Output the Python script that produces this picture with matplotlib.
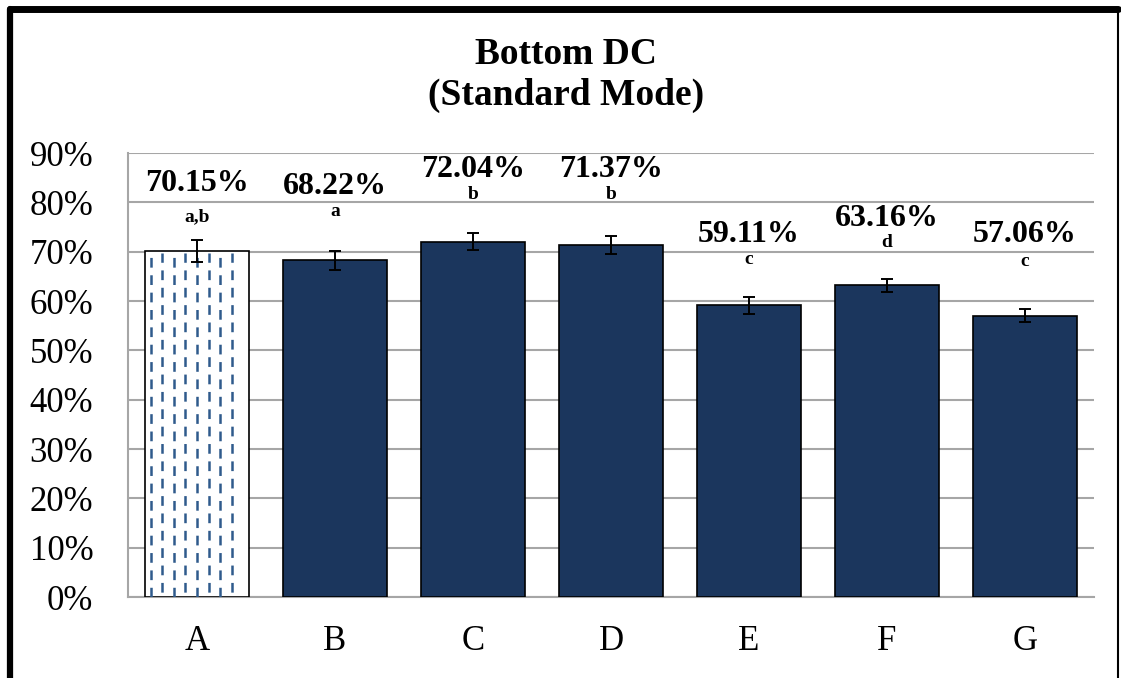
import matplotlib
matplotlib.use("Agg")
import matplotlib.pyplot as plt
import numpy as np
from matplotlib.lines import Line2D

plt.rcParams['font.family'] = ['Liberation Serif', 'DejaVu Serif']
plt.rcParams['lines.scale_dashes'] = False

# data
groups = ['A', 'B', 'C', 'D', 'E', 'F', 'G']
means = [70.15, 68.22, 72.04, 71.37, 59.11, 63.16, 57.06]
errs = [2.2, 2.0, 1.7, 1.9, 1.7, 1.4, 1.4]
letters = ['a,b', 'a', 'b', 'b', 'c', 'd', 'c']
# label heights (in % units) as placed in the original
value_lab_y = [83.8, 83.2, 86.6, 86.6, 73.4, 76.7, 73.4]
letter_lab_y = [77.1, 78.2, 81.5, 81.5, 68.4, 71.8, 68.0]

navy = '#1b365d'
dash_blue = '#2f5a8c'
grid_grey = '#a6a6a6'

fig = plt.figure(figsize=(11.21, 6.78), dpi=100)
ax = fig.add_axes([128/1121, 1 - 597/678, (1094-128)/1121, (597-153)/678])

x = np.arange(len(groups))
w = 0.76
colors = ['white'] + [navy]*(len(groups)-1)
bars = ax.bar(x, means, width=w, color=colors, edgecolor='black', linewidth=1.2, zorder=3)

# dashed pattern inside the first bar
b0 = bars[0]
x0 = b0.get_x()
cols = x0 + 0.044 + 0.0842*np.arange(8)
for k, cx in enumerate(cols):
    off = 0 if k % 2 == 0 else 9
    ax.plot([cx, cx], [0, means[0] - 0.4], color=dash_blue, lw=1.8,
            linestyle=(off, (7, 5.5)), zorder=4, solid_capstyle='butt',
            dash_capstyle='butt')

ax.errorbar(x, means, yerr=errs, fmt='none', ecolor='black', elinewidth=1.4,
            capsize=4.3, capthick=1.4, zorder=5)

for i in range(len(groups)):
    ax.text(x[i], value_lab_y[i], f'{means[i]:.2f}%', ha='center', va='center',
            fontsize=23, fontweight='bold', zorder=6)
    ax.text(x[i], letter_lab_y[i], letters[i], ha='center', va='center',
            fontsize=14, fontweight='bold', zorder=6)

ax.set_xlim(-0.5, len(groups) - 0.5)
ax.set_ylim(0, 90)
ax.set_yticks(np.arange(0, 91, 10))
ax.set_yticklabels([f'{v}%' for v in range(0, 91, 10)])
ax.set_xticks(x)
ax.set_xticklabels(groups)
ax.tick_params(axis='y', length=0, pad=25, labelsize=25)
ax.tick_params(axis='x', length=0, pad=20, labelsize=25)
ax.yaxis.grid(True, color=grid_grey, linewidth=1.5, zorder=0)
ax.set_axisbelow(True)
for s in ['top', 'right']:
    ax.spines[s].set_visible(False)
for s in ['left', 'bottom']:
    ax.spines[s].set_color(grid_grey)
    ax.spines[s].set_linewidth(1.5)

fig.text(0.505, 1 - 75/678, 'Bottom DC\n(Standard Mode)', ha='center', va='center',
         fontsize=27, fontweight='bold', linespacing=1.2)

# outer frame
fig.add_artist(Line2D([10/1121, 10/1121], [0, 1 - 9/678], color='black', lw=4.5,
                      transform=fig.transFigure, solid_capstyle='round'))
fig.add_artist(Line2D([10/1121, 1118/1121], [1 - 8.5/678, 1 - 8.5/678], color='black', lw=5,
                      transform=fig.transFigure, solid_capstyle='round'))
fig.add_artist(Line2D([1118/1121, 1118/1121], [0, 1 - 8/678], color='black', lw=1.5,
                      transform=fig.transFigure))

fig.savefig('out.png', dpi=100)
